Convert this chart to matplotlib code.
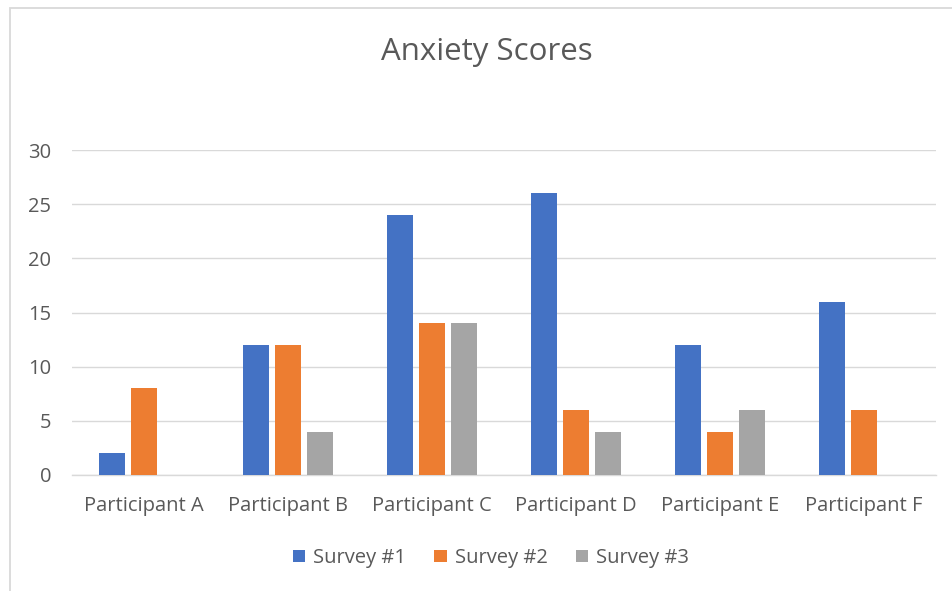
import numpy as np
import matplotlib.pyplot as plt
from matplotlib.patches import Rectangle

categories = ['Participant A', 'Participant B', 'Participant C',
              'Participant D', 'Participant E', 'Participant F']
survey1 = [2, 12, 24, 26, 12, 16]
survey2 = [8, 12, 14, 6, 4, 6]
survey3 = [0, 4, 14, 4, 6, 0]
series_names = ['Survey #1', 'Survey #2', 'Survey #3']
colors = ['#4472C4', '#ED7D31', '#A5A5A5']
yticks = [0, 5, 10, 15, 20, 25, 30]

plt.rcParams['font.family'] = ['Open Sans', 'DejaVu Sans']
TXT = '#595959'

W, H = 952, 591
fig = plt.figure(figsize=(W / 100, H / 100), dpi=100)
# plot area in pixels: x 72..936, y 150..475
ax = fig.add_axes([72 / W, 1 - 475 / H, (936 - 72) / W, (475 - 150) / H])

# chart border (only left and top edges are visible in the reference)
fig.patches.append(Rectangle((9.5 / W, -0.1), 1.2, 1 - 7.5 / H + 0.1,
                             transform=fig.transFigure, fill=False,
                             edgecolor='#D9D9D9', linewidth=1.3))

x = np.arange(len(categories))
width = 0.175
step = 0.222
for i, (vals, name, c) in enumerate(zip([survey1, survey2, survey3], series_names, colors)):
    ax.bar(x + (i - 1) * step, vals, width, color=c, label=name, zorder=3)

ax.set_xlim(-0.5, len(categories) - 0.5)
ax.set_ylim(0, 30)
ax.set_yticks(yticks)
ax.set_xticks(x)
ax.set_xticklabels(categories)
ax.tick_params(axis='both', length=0, colors=TXT, labelsize=14.5)
ax.tick_params(axis='y', pad=15)
ax.tick_params(axis='x', pad=15)
ax.grid(axis='y', color='#D9D9D9', linewidth=1, zorder=0)
for s in ['top', 'right', 'left']:
    ax.spines[s].set_visible(False)
ax.spines['bottom'].set_color('#D9D9D9')
ax.spines['bottom'].set_linewidth(1)

fig.text(487 / W, 1 - 52 / H, 'Anxiety Scores', ha='center', va='center',
         fontsize=22.5, color=TXT)

leg = fig.legend(loc='center', bbox_to_anchor=(491 / W, 1 - 558 / H), ncol=3,
                 frameon=False, fontsize=14.5, handlelength=0.6, handleheight=0.6,
                 columnspacing=1.4, handletextpad=0.4)
for t in leg.get_texts():
    t.set_color(TXT)

fig.savefig('out.png', dpi=100)
